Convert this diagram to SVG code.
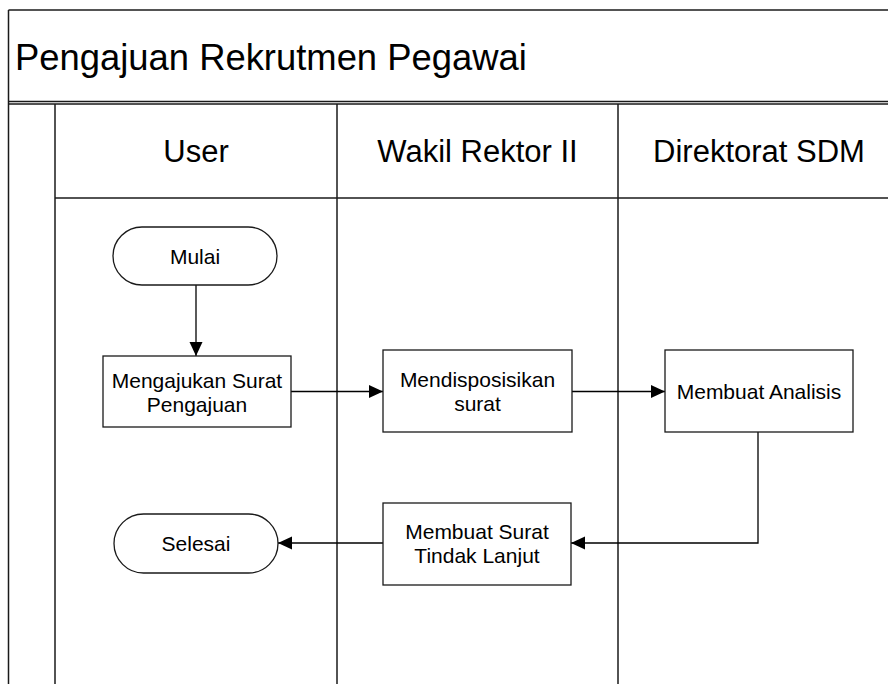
<svg xmlns="http://www.w3.org/2000/svg" width="888" height="684" viewBox="0 0 888 684">
<style>
.ln{stroke:#1a1a1a;stroke-width:1.5;fill:none}
.shape{fill:#fff;stroke:#1a1a1a;stroke-width:1.3}
.con{stroke:#000;stroke-width:1.3;fill:none;marker-end:url(#ah)}
text{font-family:"Liberation Sans",Arial,sans-serif;fill:#000}
.t{font-size:21px;text-anchor:middle}
.h{font-size:31px;text-anchor:middle}
</style>
<defs>
<marker id="ah" viewBox="0 0 14 14" refX="14" refY="7" markerWidth="14" markerHeight="14" markerUnits="userSpaceOnUse" orient="auto">
<path d="M0,0.5 L14,7 L0,13.5 Z" fill="#000"/>
</marker>
</defs>
<rect width="888" height="684" fill="#fff"/>
<g id="pool">
<line class="ln" x1="8.5" y1="10" x2="888" y2="10"/>
<line class="ln" x1="8.5" y1="10" x2="8.5" y2="684"/>
<line class="ln" x1="8.5" y1="101.5" x2="888" y2="101.5"/>
<line class="ln" x1="8.5" y1="104" x2="888" y2="104"/>
<line class="ln" x1="55" y1="104" x2="55" y2="684"/>
<line class="ln" x1="55" y1="198" x2="888" y2="198"/>
<line class="ln" x1="337" y1="104" x2="337" y2="684"/>
<line class="ln" x1="618" y1="104" x2="618" y2="684"/>
<text x="15" y="70" font-size="36.4">Pengajuan Rekrutmen Pegawai</text>
<text class="h" x="196" y="162">User</text>
<text class="h" x="477.5" y="162">Wakil Rektor II</text>
<text class="h" x="759" y="162">Direktorat SDM</text>
</g>
<g id="connectors">
<line class="con" x1="196" y1="285" x2="196" y2="356"/>
<line class="con" x1="291" y1="391.5" x2="383" y2="391.5"/>
<line class="con" x1="572" y1="391.5" x2="665" y2="391.5"/>
<polyline class="con" points="758,432 758,543 571,543"/>
<line class="con" x1="383" y1="543" x2="278" y2="543"/>
</g>
<g id="mulai">
<rect class="shape" x="113" y="227" width="164" height="58" rx="29"/>
<text class="t" x="195" y="263.5">Mulai</text>
</g>
<g id="mengajukan">
<rect class="shape" x="103" y="356" width="188" height="71"/>
<text class="t" x="197" y="387.5">Mengajukan Surat</text>
<text class="t" x="197" y="412">Pengajuan</text>
</g>
<g id="mendisposisikan">
<rect class="shape" x="383" y="350" width="189" height="82"/>
<text class="t" x="477.5" y="386.5">Mendisposisikan</text>
<text class="t" x="477.5" y="411">surat</text>
</g>
<g id="analisis">
<rect class="shape" x="665" y="350" width="188" height="82"/>
<text class="t" x="759" y="398.5">Membuat Analisis</text>
</g>
<g id="tindaklanjut">
<rect class="shape" x="383" y="503" width="188" height="82"/>
<text class="t" x="477" y="538.5">Membuat Surat</text>
<text class="t" x="477" y="563">Tindak Lanjut</text>
</g>
<g id="selesai">
<rect class="shape" x="114" y="514" width="164" height="59" rx="29.5"/>
<text class="t" x="196" y="551">Selesai</text>
</g>
</svg>
